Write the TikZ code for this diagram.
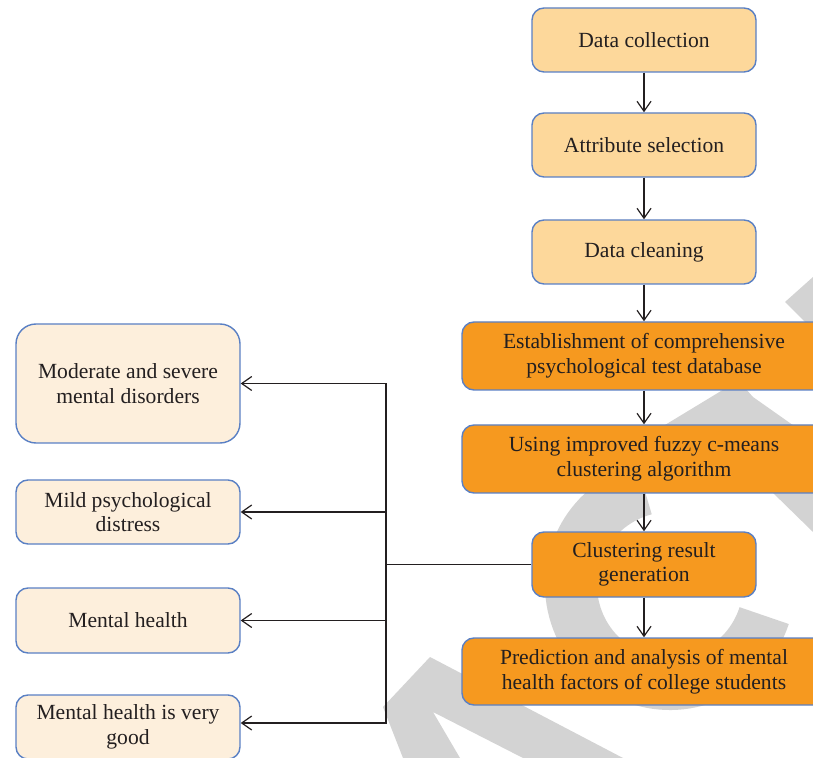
\documentclass[tikz,border=0pt]{standalone}
\usepackage{fontspec}
\setmainfont{Liberation Serif}
\usepackage{xcolor}
\usepackage{tikz}
\usetikzlibrary{positioning,arrows.meta,calc}
\definecolor{boxline}{HTML}{5A80C4}
\definecolor{lightorange}{HTML}{FDD89B}
\definecolor{darkorange}{HTML}{F6991F}
\definecolor{cream}{HTML}{FDEFDC}
\definecolor{ink}{HTML}{231F20}
\definecolor{wmgray}{HTML}{D3D3D3}
\tikzset{
     line/.style={draw=ink, line width=0.6pt, -{Straight Barb[length=5pt,width=7pt]}},
     wide/.style={minimum width=182pt, minimum height=34pt}
     }

\begin{document}
\begin{tikzpicture}[x=0.5pt,y=-0.5pt]
\tikzstyle{block} = [rectangle, draw=boxline, line width=0.7pt, fill=lightorange,
minimum width=112pt, minimum height=32pt, rounded corners=6pt, align=center,
text=ink, font=\fontsize{10.8}{12.3}\selectfont]
\tikzstyle{blockO} = [block, fill=darkorange]
\tikzstyle{blockC} = [block, fill=cream]

\clip (0,0) rectangle (813,758);

% watermark behind the boxes
\coordinate (ringC) at (670,585);
\draw[wmgray, line width=26pt] ([shift={(105:49.5pt)}]ringC) arc[start angle=105, end angle=342, radius=49.5pt];
\fill[wmgray] (383,707) -- (430,657) -- (623,758) -- (523,758) -- (433,712) -- (460,758) -- (403,758) -- cycle;
\fill[wmgray] (813,277) -- (785,302) -- (813,330) -- cycle;
\fill[wmgray] (726,388) -- (745,388) -- (753,397) -- (797,428) -- (660,428) -- cycle;
\fill[wmgray] (770,490) -- (813,532) -- (813,490) -- cycle;

% main column
\node [block] at (644,40) (DC) {Data collection};
\node [block, below=19.8pt of DC] (AS) {Attribute selection};
\node [block, below=20.8pt of AS] (DCl) {Data cleaning};
\node [blockO, wide, below=18.3pt of DCl] (DB) {Establishment of comprehensive\\psychological test database};
\node [blockO, wide, below=16.8pt of DB] (FCM) {Using improved fuzzy c-means\\clustering algorithm};
\node [blockO, minimum height=32.5pt, below=18.8pt of FCM] (CR) {Clustering result\\generation};
\node [blockO, wide, minimum height=33.5pt, below=19.8pt of CR] (PA) {Prediction and analysis of mental\\health factors of college students};

% result classes
\node [blockC, minimum height=59.5pt, rounded corners=10pt] at (128,383.5) (MS) {Moderate and severe\\mental disorders};
\node [blockC, below=17.8pt of MS] (MD) {Mild psychological\\distress};
\node [blockC, minimum height=32.5pt, below=21.3pt of MD] (MH) {Mental health};
\node [blockC, below=20.3pt of MH] (VG) {Mental health is very\\good};

\coordinate (bus) at (386,0 |- CR.west);

%Lines
\draw[line] (DC) -- (AS);
\draw[line] (AS) -- (DCl);
\draw[line] (DCl) -- (DB);
\draw[line] (DB) -- (FCM);
\draw[line] (FCM) -- (CR);
\draw[line] (CR) -- (PA);

\draw[draw=ink, line width=0.6pt] (CR.west) -- (bus);
\draw[line] (bus) |- (MS.east);
\draw[line] (bus) |- (MD.east);
\draw[line] (bus) |- (MH.east);
\draw[line] (bus) |- ([yshift=2pt]VG.east);
\end{tikzpicture}
\end{document}
